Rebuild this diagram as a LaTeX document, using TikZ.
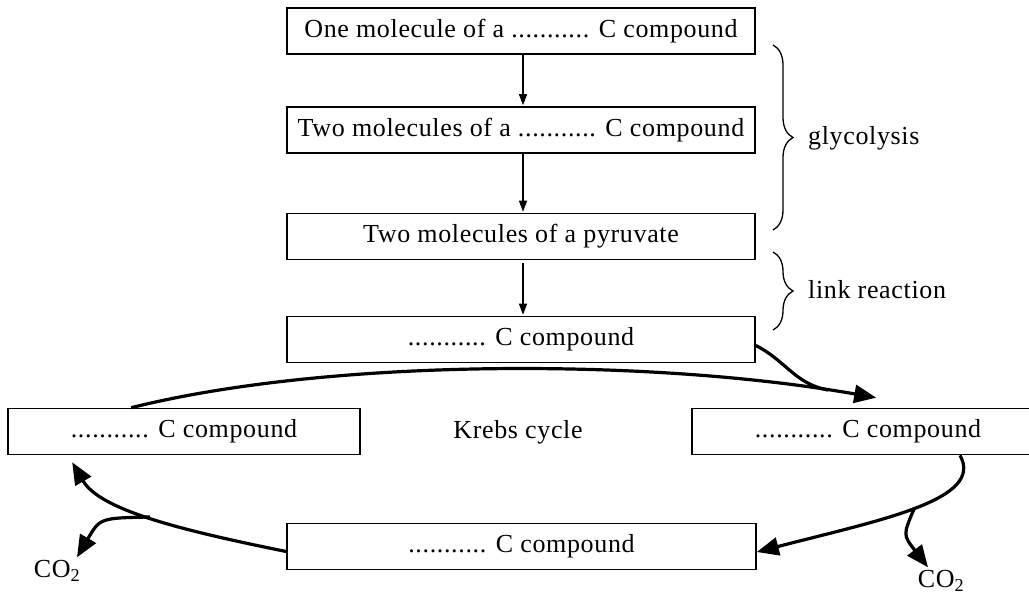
\documentclass[tikz,border=0pt]{standalone}
\usepackage{fontspec}
\setmainfont[LetterSpace=2.5]{Liberation Serif}
\usetikzlibrary{arrows.meta,decorations.pathreplacing,calc}
\begin{document}
\begin{tikzpicture}[x=1pt,y=-1pt,
  box/.style={draw,line width=1.6pt,minimum height=46pt,inner sep=0pt,font=\fontsize{26}{30}\selectfont},
  thinarrow/.style={line width=1.3pt,-{Triangle[length=11pt,width=8pt]}},
  cyc/.style={line width=3.2pt,-{Triangle[length=22pt,width=18pt]}},
  cycline/.style={line width=3.2pt},
  lbl/.style={font=\fontsize{26}{30}\selectfont,inner sep=0pt},
  bracestyle/.style={decorate,decoration={brace,amplitude=20pt},line width=1.3pt}]
\useasboundingbox (0,0) rectangle (1029,595);
% boxes
\node[box,minimum width=468pt] (b1) at (521,31) {One molecule of a ........... C compound};
\node[box,minimum width=468pt] (b2) at (521,130) {Two molecules of a ........... C compound};
\node[box,minimum width=468pt] (b3) at (521,236.5) {Two molecules of a pyruvate};
\node[box,minimum width=468pt] (b4) at (521,339.5) {........... C compound};
\node[box,minimum width=352pt] (bl) at (184,431.5) {........... C compound};
\node[box,minimum width=352pt] (br) at (868,431.5) {........... C compound};
\node[box,minimum width=469pt] (bm) at (521.5,546.5) {........... C compound};
% labels
\node[lbl,anchor=west] (gly) at (808,138) {glycolysis};
\node[lbl,anchor=west] (lnk) at (808,290) {link reaction};
\node[lbl] (krebs) at (518,432) {Krebs cycle};
\node[lbl] (co2a) at (57,571) {CO\textsubscript{2}};
\node[lbl] (co2b) at (941,581) {CO\textsubscript{2}};
% braces
\coordinate (g1) at (773,45);
\coordinate (g2) at (773,230);
\coordinate (l1) at (773,252);
\coordinate (l2) at (773,330);
\draw[bracestyle] (g1) -- (g2);
\draw[bracestyle] (l1) -- (l2);
% vertical arrows
\draw[thinarrow] ([xshift=2pt]b1.south) -- ([xshift=2pt,yshift=1pt]b2.north);
\draw[thinarrow] ([xshift=2pt]b2.south) -- ([xshift=2pt,yshift=1pt]b3.north);
\draw[thinarrow] ([xshift=2pt,yshift=-3pt]b3.south) -- ([xshift=2pt,yshift=1pt]b4.north);
% Krebs cycle arrows
\coordinate (t1) at ([shift={(185pt,10pt)}]br.north west);
\coordinate (m1) at (828,390);
\draw[cyc] ([xshift=124pt]bl.north west) .. controls (330,358) and (650,358) .. (t1);
\draw[cycline] ([yshift=-6pt]b4.east) .. controls (785,360) and (795,384) .. (m1);
\coordinate (j2) at (914,509);
\draw[cyc] ([xshift=92pt]br.south) .. controls (985,500) and (880,520) .. ([yshift=-5.5pt]bm.east);
\draw[cyc] (j2) .. controls (903,535) .. ([xshift=-13pt,yshift=3pt]co2b.north);
\coordinate (j3) at (150,517);
\draw[cyc] ([yshift=-5pt]bm.west) .. controls (180,530) and (100,510) .. ([xshift=65pt,yshift=-7pt]bl.south west);
\draw[cyc] (j3) .. controls (100,518) .. ([xshift=20pt,yshift=3pt]co2a.north);
\end{tikzpicture}
\end{document}
